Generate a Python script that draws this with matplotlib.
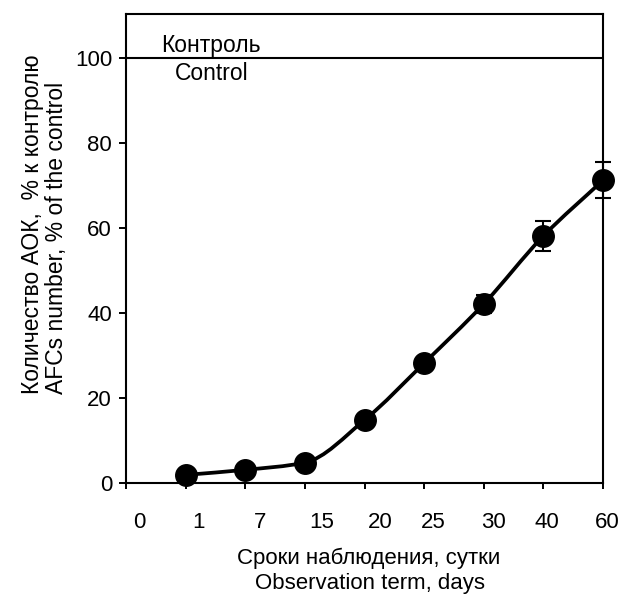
import matplotlib
matplotlib.use("Agg")
import matplotlib.pyplot as plt
from matplotlib.path import Path
from matplotlib.patches import PathPatch
from matplotlib.ticker import FixedLocator, NullFormatter

plt.rcParams['font.family'] = ['Liberation Sans', 'DejaVu Sans']
plt.rcParams['font.size'] = 16

# ---- data ----
tick_labels = ["0", "1", "7", "15", "20", "25", "30", "40", "60"]
days = ["1", "7", "15", "20", "25", "30", "40", "60"]
values = [1.9, 3.1, 4.8, 14.8, 28.2, 42.1, 58.1, 71.2]
errors = [0.0, 0.0, 0.0, 0.0, 0.0, 2.1, 3.5, 4.2]
control_value = 100

# layout-only shifts of tick labels (axis units)
label_shift = [0.22, 0.21, 0.25, 0.29, 0.26, 0.15, 0.16, 0.06, 0.07]

fig = plt.figure(figsize=(6.22, 6.02), dpi=100)
ax = fig.add_axes([126/622, 1-483/602, (603-126)/622, (483-14)/602])

xpos = [tick_labels.index(d) for d in days]

# smooth monotone curve through points (cubic Hermite -> Bezier)
n = len(xpos)
d = [(values[i+1]-values[i])/(xpos[i+1]-xpos[i]) for i in range(n-1)]
m = [d[0]]
for i in range(1, n-1):
    if d[i-1]*d[i] > 0:
        m.append(2.0/(1.0/d[i-1] + 1.0/d[i]))
    else:
        m.append(0.0)
m.append(d[-1])
verts = [(xpos[0], values[0])]
codes = [Path.MOVETO]
for i in range(n-1):
    h = xpos[i+1]-xpos[i]
    verts += [(xpos[i]+h/3, values[i]+m[i]*h/3),
              (xpos[i+1]-h/3, values[i+1]-m[i+1]*h/3),
              (xpos[i+1], values[i+1])]
    codes += [Path.CURVE4]*3
ax.add_patch(PathPatch(Path(verts, codes), fill=False, lw=2.7, color='black',
                       zorder=3, capstyle='round', joinstyle='round'))

eb = ax.errorbar(xpos, values, yerr=errors, fmt='none', ecolor='black',
                 elinewidth=1.5, capsize=6, capthick=1.5, zorder=2)
for art in eb.get_children():
    art.set_clip_on(False)
ax.plot(xpos, values, 'o', color='black', markersize=15.5, zorder=4, clip_on=False)

ax.axhline(control_value, color='black', lw=1.5, zorder=1)
ax.text(1.42, 101.4, "Контроль", ha='center', va='baseline', fontsize=16.5)
ax.text(1.43, 99.0, "Control", ha='center', va='top', fontsize=16.5)

ax.set_xlim(0, 8)
ax.set_ylim(0, 110.3)

ax.xaxis.set_major_locator(FixedLocator(range(len(tick_labels))))
ax.xaxis.set_major_formatter(NullFormatter())
ax.tick_params(axis='x', which='major', direction='out', length=4.5, width=1.4)
xt = ax.get_xaxis_transform()
for i, (lab, s) in enumerate(zip(tick_labels, label_shift)):
    ax.text(i + s, -40/469, lab, transform=xt, ha='center', va='center',
            fontsize=16, clip_on=False)

ax.set_yticks([0, 20, 40, 60, 80, 100])
ax.tick_params(axis='y', direction='out', length=5, width=1.4, pad=5, labelsize=16)

for sp in ax.spines.values():
    sp.set_linewidth(1.5)

fig.text(32/622, 1-394/602, "Количество АОК,  % к контролю", rotation=90,
         rotation_mode='anchor', ha='left', va='center', fontsize=16.5)
fig.text(56/622, 1-394/602, "AFCs number, % of the control", rotation=90,
         rotation_mode='anchor', ha='left', va='center', fontsize=16.5)

fig.text(369/622, 1-558/602, "Сроки наблюдения, сутки", ha='center', va='center', fontsize=16)
fig.text(370/622, 1-584/602, "Observation term, days", ha='center', va='center', fontsize=16)

fig.savefig("out.png", dpi=100)
